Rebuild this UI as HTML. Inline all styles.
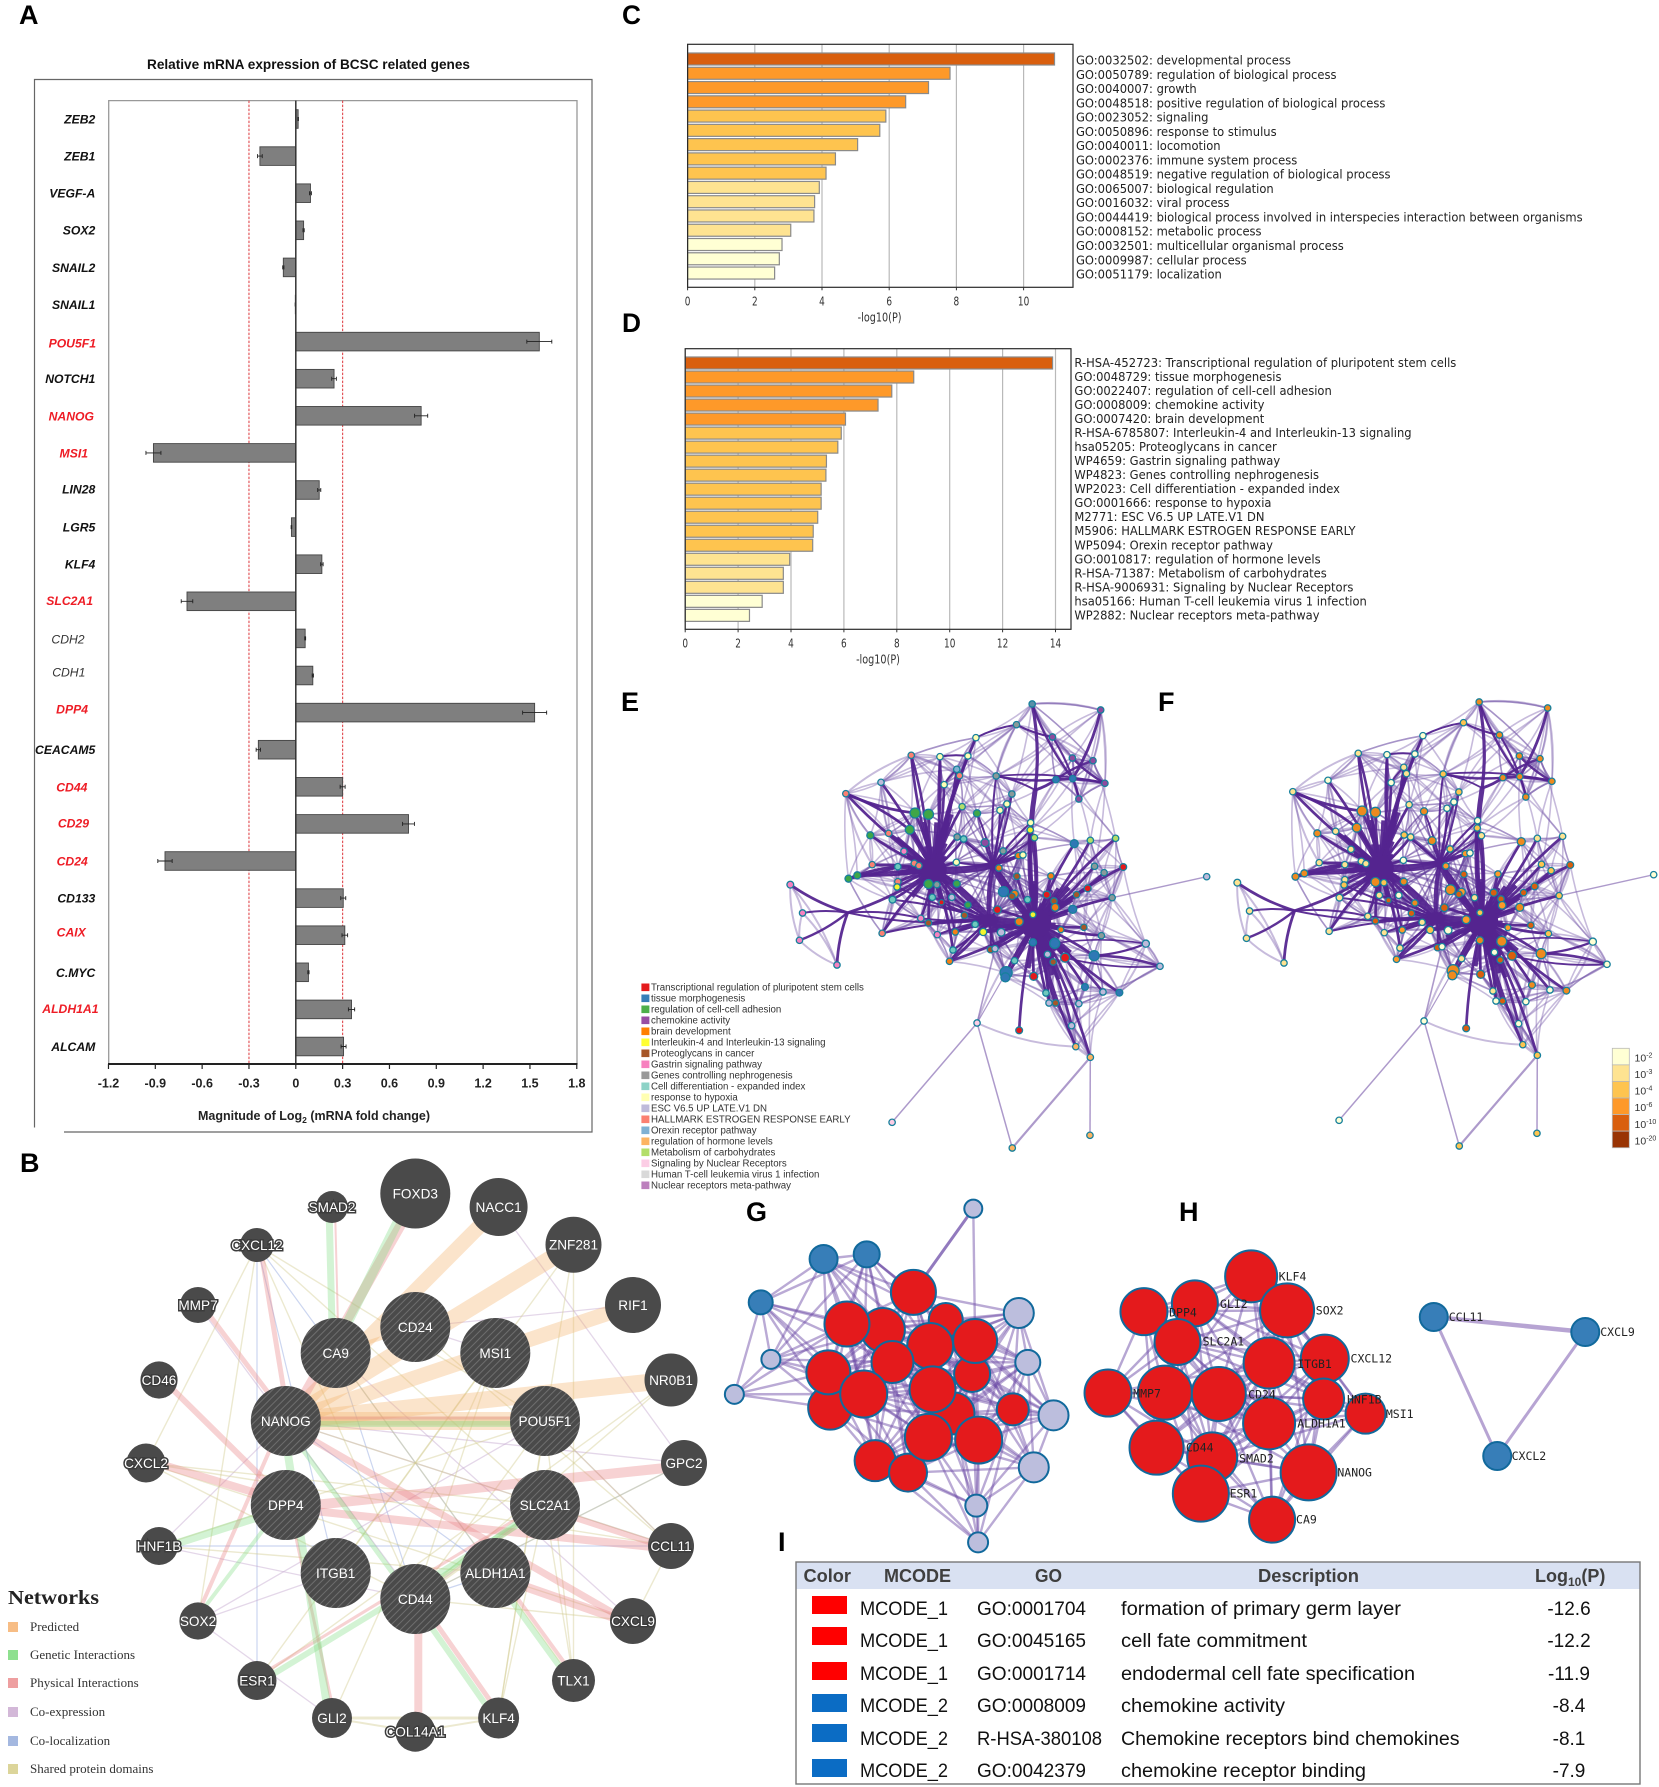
<!DOCTYPE html>
<html lang="en">
<head>
<meta charset="utf-8">
<title>BCSC gene expression figure</title>
<style>
html,body{margin:0;padding:0;background:#fff;}
svg{display:block;}
text{font-family:"Liberation Sans",sans-serif;}
.letter{font-size:27px;font-weight:bold;fill:#000;}
.th{font-size:18px;font-weight:bold;fill:#3f3f3f;}
.td{font-size:19px;fill:#111;}
.net{font-family:"Liberation Serif",serif;font-size:13px;fill:#333;}
</style>
</head>
<body>
<svg id="fig" xmlns="http://www.w3.org/2000/svg" width="1659" height="1787" viewBox="0 0 1659 1787">
<defs>
<pattern id="hatch" patternUnits="userSpaceOnUse" width="5" height="5" patternTransform="rotate(45)">
<rect width="5" height="5" fill="#4a4a4a"/><rect width="1" height="5" fill="#6e6e6e"/>
</pattern>
</defs>
<rect width="1659" height="1787" fill="#fff"/>

<text class="letter" x="19" y="24">A</text>
<text class="letter" x="20" y="1172">B</text>
<text class="letter" x="622" y="24" textLength="19" lengthAdjust="spacingAndGlyphs">C</text>
<text class="letter" x="622" y="332" textLength="19" lengthAdjust="spacingAndGlyphs">D</text>
<text class="letter" x="621" y="711">E</text>
<text class="letter" x="1158" y="711">F</text>
<text class="letter" x="746" y="1221">G</text>
<text class="letter" x="1179" y="1221">H</text>
<text class="letter" x="778" y="1551">I</text>

<!-- Panel A frame -->
<g id="panelA">
<text x="308.5" y="69" text-anchor="middle" font-size="13.5" font-weight="bold" fill="#111" textLength="323" lengthAdjust="spacingAndGlyphs">Relative mRNA expression of BCSC related genes</text>
<path d="M34.5 1127.5V79.5H592V1132H64" fill="none" stroke="#666" stroke-width="1.2"/>
<path d="M108.7 1064V100.6H577V1064" fill="none" stroke="#999" stroke-width="1.3"/>
<text x="198" y="1120" font-size="12.5" font-weight="bold" fill="#222">Magnitude of Log<tspan font-size="8.5" dy="3">2</tspan><tspan dy="-3"> (mRNA fold change)</tspan></text>
</g>

<!-- Panel B -->
<g id="panelB"></g>
<g id="legendB">
<text x="8" y="1604" font-family="Liberation Serif" style="font-family:'Liberation Serif',serif" font-size="20" font-weight="bold" fill="#222" textLength="91" lengthAdjust="spacingAndGlyphs">Networks</text>
<rect x="8" y="1622" width="10" height="10" fill="#f7bd85"/>
<text class="net" x="30" y="1631">Predicted</text>
<rect x="8" y="1650" width="10" height="10" fill="#8ee08f"/>
<text class="net" x="30" y="1659">Genetic Interactions</text>
<rect x="8" y="1678" width="10" height="10" fill="#ee9fa0"/>
<text class="net" x="30" y="1687">Physical Interactions</text>
<rect x="8" y="1707" width="10" height="10" fill="#d3b8d8"/>
<text class="net" x="30" y="1716">Co-expression</text>
<rect x="8" y="1736" width="10" height="10" fill="#a4b8e0"/>
<text class="net" x="30" y="1745">Co-localization</text>
<rect x="8" y="1764" width="10" height="10" fill="#dcd59a"/>
<text class="net" x="30" y="1773">Shared protein domains</text>
</g>

<g id="panelC"></g>
<g id="panelD"></g>
<g id="panelE"></g>
<g id="panelF"></g>
<g id="legendE"></g>
<g id="legendF"></g>
<g id="panelG"></g>
<g id="panelH"></g>

<!-- Panel I table -->
<g id="panelI">
<rect x="796" y="1562" width="844" height="27" fill="#d9e1f2"/>
<rect x="796" y="1562" width="844" height="222" fill="none" stroke="#777" stroke-width="1.4"/>
<text class="th" x="803.5" y="1582" textLength="47.5" lengthAdjust="spacingAndGlyphs">Color</text>
<text class="th" x="884" y="1582" textLength="67" lengthAdjust="spacingAndGlyphs">MCODE</text>
<text class="th" x="1035" y="1582" textLength="27" lengthAdjust="spacingAndGlyphs">GO</text>
<text class="th" x="1258" y="1582" textLength="101" lengthAdjust="spacingAndGlyphs">Description</text>
<text class="th" x="1535" y="1582">Log<tspan font-size="12" dy="4">10</tspan><tspan dy="-4">(P)</tspan></text>

<rect x="812" y="1596" width="35" height="18" fill="#ff0000"/>
<text class="td" x="860" y="1615" textLength="88" lengthAdjust="spacingAndGlyphs">MCODE_1</text>
<text class="td" x="977" y="1615" textLength="109" lengthAdjust="spacingAndGlyphs">GO:0001704</text>
<text class="td" x="1121" y="1615" textLength="280" lengthAdjust="spacingAndGlyphs">formation of primary germ layer</text>
<text class="td" x="1569" y="1615" text-anchor="middle">-12.6</text>

<rect x="812" y="1627" width="35" height="18" fill="#ff0000"/>
<text class="td" x="860" y="1647" textLength="88" lengthAdjust="spacingAndGlyphs">MCODE_1</text>
<text class="td" x="977" y="1647" textLength="109" lengthAdjust="spacingAndGlyphs">GO:0045165</text>
<text class="td" x="1121" y="1647" textLength="186" lengthAdjust="spacingAndGlyphs">cell fate commitment</text>
<text class="td" x="1569" y="1647" text-anchor="middle">-12.2</text>

<rect x="812" y="1662" width="35" height="18" fill="#ff0000"/>
<text class="td" x="860" y="1680" textLength="88" lengthAdjust="spacingAndGlyphs">MCODE_1</text>
<text class="td" x="977" y="1680" textLength="109" lengthAdjust="spacingAndGlyphs">GO:0001714</text>
<text class="td" x="1121" y="1680" textLength="294" lengthAdjust="spacingAndGlyphs">endodermal cell fate specification</text>
<text class="td" x="1569" y="1680" text-anchor="middle">-11.9</text>

<rect x="812" y="1694" width="35" height="18" fill="#0b6cc4"/>
<text class="td" x="860" y="1712" textLength="88" lengthAdjust="spacingAndGlyphs">MCODE_2</text>
<text class="td" x="977" y="1712" textLength="109" lengthAdjust="spacingAndGlyphs">GO:0008009</text>
<text class="td" x="1121" y="1712" textLength="164" lengthAdjust="spacingAndGlyphs">chemokine activity</text>
<text class="td" x="1569" y="1712" text-anchor="middle">-8.4</text>

<rect x="812" y="1724" width="35" height="18" fill="#0b6cc4"/>
<text class="td" x="860" y="1745" textLength="88" lengthAdjust="spacingAndGlyphs">MCODE_2</text>
<text class="td" x="977" y="1745" textLength="125" lengthAdjust="spacingAndGlyphs">R-HSA-380108</text>
<text class="td" x="1121" y="1745" textLength="338.6" lengthAdjust="spacingAndGlyphs">Chemokine receptors bind chemokines</text>
<text class="td" x="1569" y="1745" text-anchor="middle">-8.1</text>

<rect x="812" y="1759" width="35" height="18" fill="#0b6cc4"/>
<text class="td" x="860" y="1777" textLength="88" lengthAdjust="spacingAndGlyphs">MCODE_2</text>
<text class="td" x="977" y="1777" textLength="109" lengthAdjust="spacingAndGlyphs">GO:0042379</text>
<text class="td" x="1121" y="1777" textLength="245" lengthAdjust="spacingAndGlyphs">chemokine receptor binding</text>
<text class="td" x="1569" y="1777" text-anchor="middle">-7.9</text>
</g>
</svg>

<script>
// ---------- Panel A data ----------
const aGenes = ["ZEB2","ZEB1","VEGF-A","SOX2","SNAIL2","SNAIL1","POU5F1","NOTCH1","NANOG","MSI1","LIN28","LGR5","KLF4","SLC2A1","CDH2","CDH1","DPP4","CEACAM5","CD44","CD29","CD24","CD133","CAIX","C.MYC","ALDH1A1","ALCAM"];
const aValues = [0.015,-0.23,0.094,0.05,-0.08,-0.003,1.56,0.245,0.803,-0.912,0.15,-0.028,0.167,-0.697,0.06,0.109,1.53,-0.24,0.30,0.722,-0.838,0.304,0.314,0.081,0.357,0.306];
const aErrors = [0.002,0.015,0.006,0.004,0.004,0.001,0.08,0.015,0.042,0.048,0.01,0.002,0.008,0.037,0.003,0.004,0.077,0.014,0.016,0.038,0.046,0.016,0.018,0.004,0.02,0.016];
const aRedGenes = ["POU5F1","NANOG","MSI1","SLC2A1","DPP4","CD44","CD29","CD24","CAIX","ALDH1A1"];
const aTicks = [-1.2,-0.9,-0.6,-0.3,0,0.3,0.6,0.9,1.2,1.5,1.8];
const aTickLabels = ["-1.2","-0.9","-0.6","-0.3","0","0.3","0.6","0.9","1.2","1.5","1.8"];
const aThresholds = [-0.3,0.3];

// ---------- Panel C / D data ----------
const cTerms = ["GO:0032502: developmental process","GO:0050789: regulation of biological process","GO:0040007: growth","GO:0048518: positive regulation of biological process","GO:0023052: signaling","GO:0050896: response to stimulus","GO:0040011: locomotion","GO:0002376: immune system process","GO:0048519: negative regulation of biological process","GO:0065007: biological regulation","GO:0016032: viral process","GO:0044419: biological process involved in interspecies interaction between organisms","GO:0008152: metabolic process","GO:0032501: multicellular organismal process","GO:0009987: cellular process","GO:0051179: localization"];
const cValues = [10.92,7.81,7.17,6.49,5.9,5.72,5.06,4.4,4.12,3.92,3.78,3.76,3.07,2.81,2.73,2.59];
const cTicks = [0,2,4,6,8,10];
const dTerms = ["R-HSA-452723: Transcriptional regulation of pluripotent stem cells","GO:0048729: tissue morphogenesis","GO:0022407: regulation of cell-cell adhesion","GO:0008009: chemokine activity","GO:0007420: brain development","R-HSA-6785807: Interleukin-4 and Interleukin-13 signaling","hsa05205: Proteoglycans in cancer","WP4659: Gastrin signaling pathway","WP4823: Genes controlling nephrogenesis","WP2023: Cell differentiation - expanded index","GO:0001666: response to hypoxia","M2771: ESC V6.5 UP LATE.V1 DN","M5906: HALLMARK ESTROGEN RESPONSE EARLY","WP5094: Orexin receptor pathway","GO:0010817: regulation of hormone levels","R-HSA-71387: Metabolism of carbohydrates","R-HSA-9006931: Signaling by Nuclear Receptors","hsa05166: Human T-cell leukemia virus 1 infection","WP2882: Nuclear receptors meta-pathway"];
const dValues = [13.89,8.64,7.81,7.29,6.06,5.9,5.77,5.34,5.32,5.14,5.14,5.01,4.84,4.82,3.95,3.71,3.71,2.91,2.43];
const dTicks = [0,2,4,6,8,10,12,14];

// ---------- Panel B data ----------
const bOuterNodes = [["FOXD3",415.3,1193.5,35],["NACC1",498.6,1207,29],["ZNF281",573.5,1244.7,28],["RIF1",633,1305,28],["NR0B1",671,1380,26.5],["GPC2",684,1463,23],["CCL11",671,1546,23],["CXCL9",633,1621,23],["TLX1",573.5,1680.5,21.5],["KLF4",498.6,1718,20.5],["COL14A1",415.3,1731.7,20],["GLI2",332,1718,20],["ESR1",257,1680.5,19.5],["SOX2",198,1621,18.6],["HNF1B",159,1546,19],["CXCL2",146,1463,19.5],["CD46",159,1380,18.6],["MMP7",198,1305,18],["CXCL12",257,1245,17],["SMAD2",332,1207,16]];
const bInnerNodes = [["CA9",335.7,1353,35],["CD24",415.3,1327,35],["MSI1",495.3,1353,35],["NANOG",285.8,1421,35],["POU5F1",545,1421,35],["DPP4",285.8,1505,35],["SLC2A1",545,1505,35],["ITGB1",335.7,1573,35],["CD44",415.3,1599,35],["ALDH1A1",495.3,1573,35]];
const bHalo = ["SMAD2","CXCL12","MMP7","CD46","CXCL2","HNF1B","COL14A1","ESR1","CXCL9","CCL11"];
const bSharedEdges = [["CXCL12","CXCL2"],["CXCL12","CD44"],["CXCL12","POU5F1"],["CXCL12","SLC2A1"],["ZNF281","KLF4"],["ZNF281","TLX1"],["CXCL2","CD44"],["CXCL2","CCL11"],["CXCL2","SLC2A1"],["HNF1B","POU5F1"],["NR0B1","CD44"],["GPC2","CD44"],["CCL11","CXCL9"],["CCL11","POU5F1"],["CXCL9","CXCL2"],["TLX1","SLC2A1"],["TLX1","POU5F1"],["KLF4","POU5F1"],["KLF4","SLC2A1"],["GLI2","MSI1"],["ESR1","NR0B1"],["CD44","MSI1"],["GLI2","KLF4",3],["GLI2","COL14A1",2],["COL14A1","KLF4",2],["CD24","CCL11"],["CA9","TLX1"],["MSI1","ITGB1"],["NANOG","CCL11"],["ESR1","ZNF281"],["SOX2","CXCL12"],["POU5F1","CD44"],["CXCL9","CD44"],["HNF1B","ALDH1A1"],["NANOG","POU5F1",9],["SLC2A1","CD44",5]];
const bCoexprEdges = [["MMP7","CD44"],["NACC1","GPC2"],["CD24","MSI1"],["HNF1B","CD44"],["SOX2","POU5F1"],["SOX2","GLI2"],["ITGB1","SOX2"],["CD44","SLC2A1"],["CCL11","POU5F1"],["GPC2","NANOG"],["HNF1B","NANOG"],["CA9","CXCL9"],["NANOG","CCL11"],["RIF1","CD24"]];
const bColocEdges = [["CXCL12","ESR1"],["CXCL12","CA9"],["CXCL12","ITGB1"],["CA9","CD44"],["CA9","ALDH1A1"],["NANOG","ALDH1A1"],["HNF1B","CCL11"],["CD44","GPC2"],["CD44","ALDH1A1"]];
const bPhysicalEdges = [["FOXD3","NANOG",10],["CXCL12","NANOG",5],["MMP7","NANOG",5],["CD46","DPP4",6],["CXCL2","DPP4",8],["GPC2","DPP4",10],["CCL11","DPP4",8],["CCL11","SLC2A1",6],["CXCL9","NANOG",7],["CXCL9","ALDH1A1",9],["CD44","COL14A1",8],["ALDH1A1","TLX1",4],["CD44","KLF4",5],["ESR1","SLC2A1",3],["SOX2","NANOG",4],["DPP4","GLI2",3],["SMAD2","CA9",2],["NANOG","POU5F1",3]];
const bGeneticEdges = [["FOXD3","CA9",10],["SMAD2","CA9",7],["NANOG","GLI2",8],["HNF1B","DPP4",8],["ESR1","SLC2A1",6],["NANOG","CD44",5],["CD44","KLF4",6],["ALDH1A1","TLX1",6],["DPP4","SOX2",4],["NANOG","POU5F1",6],["SLC2A1","CD44",4]];
const bPredictedEdges = [["NANOG","ZNF281",17],["NANOG","NACC1",15],["NANOG","RIF1",15],["NANOG","NR0B1",17],["NANOG","POU5F1",18],["CA9","CD24",4]];

// ---------- Panel E / F data (source-image node layout: x, y, radius, category) ----------
const enrichNodes = [
[1077,72,3.2,"c"],[1256,90,3.2,"d"],[1036,134,3.2,"g"],[1130,171,3.2,"d"],[1182,234,3.2,"d"],[1236,242,3.2,"d"],[1139,299,3.2,"b"],[1183,296,3.2,"b"],[1267,310,3.2,"d"],[1199,357,3.2,"d"],
[930,173,3.2,"k"],[761,226,3.2,"s"],[836,230,3.2,"k"],[909,228,3.2,"k"],[880,268,3.2,"o"],[887,287,3.2,"s"],[847,314,3.2,"k"],[983,288,3.2,"g"],[1024,342,3.2,"g"],[682,307,3.2,"l"],
[590,341,3.2,"s"],[1011,372,3.2,"k"],[894,380,3.2,"m"],[993,391,3.2,"k"],[771,399,5,"a"],[806,403,5,"a"],[933,400,3.6,"a"],[757,449,4.4,"a"],[1073,428,3.2,"k"],[1072,450,3.2,"y"],
[654,466,3.5,"a"],[702,460,3.2,"s"],[881,471,3.2,"g"],[898,477,3.2,"t"],[1083,473,3.2,"m"],[954,488,4,"d"],[1187,491,4,"b"],[1229,481,3.2,"m"],[1295,475,3.2,"m"],[742,514,3.2,"p"],
[1001,513,3.2,"g"],[1041,527,3.2,"e"],[1053,525,3.2,"k"],[879,547,3.2,"k"],[659,554,3.2,"s"],[726,560,3.2,"t"],[769,550,3.2,"s"],[781,557,3.2,"s"],[990,564,3.2,"e"],[1240,559,3.2,"g"],
[1315,561,3.4,"r"],[597,596,3.5,"a"],[620,586,3.5,"a"],[1037,589,3.2,"w"],[1126,588,3.2,"e"],[1265,578,3.2,"g"],[726,605,3.2,"s"],[806,612,4.5,"a"],[828,614,3.2,"g"],[880,611,3.5,"a"],
[445,614,3.4,"p"],[724,621,3.2,"y"],[1002,635,5,"b"],[1222,625,3.4,"r"],[1031,642,3.8,"e"],[1024,649,3.2,"w"],[1115,644,3.6,"r"],[1193,644,3.2,"w"],[816,652,3.2,"t"],[867,652,3.2,"l"],
[712,659,3.4,"t"],[840,667,2.6,"r"],[1065,659,3.2,"t"],[1134,663,3.2,"w"],[1286,653,3.2,"g"],[909,675,3.2,"a"],[1137,682,3.8,"e"],[986,689,3.8,"r"],[1183,688,4,"b"],[477,699,3.2,"p"],
[900,706,3.2,"w"],[1079,704,3,"y"],[786,715,3.2,"p"],[806,729,3.2,"w"],[1043,725,4,"e"],[928,733,3.2,"t"],[1212,742,3.2,"w"],[1152,749,3,"e"],[949,756,3.6,"y"],[996,757,3.8,"l"],
[876,756,3.2,"e"],[685,760,3.2,"s"],[829,764,3.2,"p"],[1258,767,3.2,"g"],[469,781,3.2,"p"],[1079,787,3.6,"b"],[1136,790,5,"b"],[1374,791,3.6,"l"],[968,809,3.2,"w"],[980,806,3.2,"l"],
[870,810,3.2,"t"],[1239,827,5,"b"],[1117,823,3.2,"l"],[1163,833,4.5,"r"],[1031,842,3.2,"t"],[861,844,3.2,"e"],[1132,846,3.2,"w"],[567,855,3.2,"p"],[1411,859,3.2,"l"],[1009,878,6,"b"],
[1007,892,4.5,"b"],[1081,889,4,"r"],[1215,921,3.4,"b"],[1113,939,3.2,"t"],[1262,936,3.2,"l"],[1305,938,3.4,"b"],[1121,969,3.2,"l"],[1138,969,3.2,"w"],[1199,971,3.2,"l"],[933,1029,3.2,"q"],
[1043,1051,3.4,"r"],[1180,1037,3.2,"l"],[1191,1100,3.2,"h"],[1229,1132,3.2,"h"],[1533,590,3.2,"l"],[711,1327,3.2,"q"],[1025,1404,3.2,"h"],[1228,1366,3.2,"h"]
];
const enrichHubs = [[1085,730],[820,570],[965,720],[975,555],[595,698],[1085,330]];
const hubStar0 = [36,37,38,49,50,55,63,66,67,73,74,76,78,86,87,93,95,96,101,102,103,104,106,111,112,113,114,115,116,117,118,120,121,122,123,54,53,62,64,65,72,81,84,77,88,28,29,34,105,98,99,109,110];
const hubStar1 = [11,12,13,14,15,16,20,19,22,24,25,27,30,31,39,44,45,46,47,51,52,56,57,58,59,61,68,69,70,71,43,33,32,91,82,83,100,75,10];
const hubStar2 = [80,83,82,85,88,89,90,92,100,105,77,91,71,75,69,68,61,70,98,99];
const hubStar3 = [35,40,48,26,21,23,17,18,33,32,28,29,41,42,43,34,64];
const thickLinks = [[128,130,10],[129,131,7],[129,130,7],[131,128,7],[130,131,4],[133,128,5],[0,133,3.2],[0,7,2.4],[1,7,2.8],[133,6,2.8],[6,8,2.8],[5,6,2.4],[7,9,2.2],[4,8,2.4],[3,9,2],[17,6,2.4],[17,8,1.8],[2,3,2.2],[10,2,1.8],[60,132,2.8],[79,132,2],[94,132,2.4],[107,132,2.8],[132,129,2.8],[132,82,2],[132,130,2],[51,45,2.8],[52,45,2.8],[20,27,2.8],[20,24,2.8],[11,57,2.6],[12,90,2.2],[16,14,1.8],[13,12,2],[17,133,1.8],[108,101,2.6],[97,101,2.2],[97,96,1.6],[108,103,1.8],[105,130,3],[88,128,3.5],[85,128,3.5],[90,130,2.6]];
const softLinks = [[60,79],[60,94],[60,107],[79,94],[79,107],[94,107],[119,128],[119,122],[0,1],[2,0],[3,5],[4,5],[4,7],[5,8],[5,9],[8,9],[6,9],[3,4],[1,5],[20,30],[19,31],[20,44],[11,19],[11,20],[10,13],[14,10],[16,13],[2,17],[18,21],[18,23],[97,108],[93,97],[93,108],[74,121],[122,121],[123,121],[70,91],[91,82],[97,115],[86,93],[74,55],[74,50]];
const straightLinks = [[119,125,1.5],[119,126,1.5],[126,123,2.2],[123,127,1.5],[119,99,1.6],[124,74,1.4],[119,109,1.2]];
const meshExcluded = [60,79,94,107,119,120,124,125,126,127];
const clusterFill = {r:"#e41a1c",b:"#2f78b5",a:"#3fa648",d:"#8e4a9e",e:"#f57f14",y:"#f4f42e",w:"#a65628",p:"#f781bf",g:"#8a9a9a",t:"#6fc9bd",k:"#ffffb3",l:"#bebada",s:"#fb8072",o:"#80b1d3",h:"#fdb462",m:"#b3de69",q:"#fccde5",c:"#5a8fa8"};
const pvalFill = {r:"#d95f0e",b:"#ee8a1e",a:"#ee8a1e",d:"#ee8a1e",e:"#fe9929",y:"#fec44f",w:"#d95f0e",p:"#fee391",g:"#fec44f",t:"#fee391",k:"#ffffd4",l:"#ffffd4",s:"#fee391",o:"#fee391",h:"#fec44f",m:"#fee391",q:"#ffffd4",c:"#ee8a1e"};
const clusterLegend = ["Transcriptional regulation of pluripotent stem cells","tissue morphogenesis","regulation of cell-cell adhesion","chemokine activity","brain development","Interleukin-4 and Interleukin-13 signaling","Proteoglycans in cancer","Gastrin signaling pathway","Genes controlling nephrogenesis","Cell differentiation - expanded index","response to hypoxia","ESC V6.5 UP LATE.V1 DN","HALLMARK ESTROGEN RESPONSE EARLY","Orexin receptor pathway","regulation of hormone levels","Metabolism of carbohydrates","Signaling by Nuclear Receptors","Human T-cell leukemia virus 1 infection","Nuclear receptors meta-pathway"];
const clusterColors = ["#e41a1c","#377eb8","#4daf4a","#984ea3","#ff7f00","#ffff33","#a65628","#f781bf","#999999","#8dd3c7","#ffffb3","#bebada","#fb8072","#80b1d3","#fdb462","#b3de69","#fccde5","#d9d9d9","#bc80bd"];
const pvalLabels = ["-2","-3","-4","-6","-10","-20"];
const pvalColors = ["#ffffd4","#fee391","#fec44f","#fe9929","#d95f0e","#993404"];

// ---------- Panel G / H data ----------
const gOuterNodes = [[423,86,9,"v"],[173,237,14,"u"],[245,223,13,"u"],[68,367,12,"u"],[499,399,15,"v"],[85,538,9.5,"v"],[514,547,12.5,"v"],[24,643,9.5,"v"],[557,706,15,"v"],[524,862,15,"v"],[428,977,11,"v"],[431,1087,10,"v"]];
const gRedNodes = [[377,420,17],[272,450,22],[421,582,18],[390,700,21],[184,683,22],[323,337,22.5],[212,432,22.5],[181,577,22],[426,483,22],[351,498,23],[288,546,21],[489,688,16],[259,842,20.5],[240,642,23.5],[355,628,23],[314,878,19],[348,772,23.5],[432,780,23.5]];
const hNodes = [["KLF4",887,289,26,933,290],["MSI1",1078,701,20,1112,702],["GLI2",793,370,23,835,372],["DPP4",708,395,23.5,750,397],["SLC2A1",764,486,23,806,485],["SOX2",947,391,27,995,392],["CXCL12",1010,536,24,1053,536],["ITGB1",917,549,25.5,964,552],["MMP7",648,639,23.5,690,641],["",743,638,27,0,0],["CD24",833,642,27,882,643],["HNF1B",1008,657,20.5,1047,659],["ALDH1A1",917,730,26,964,730],["SMAD2",822,832,25,867,836],["CD44",729,803,27,778,802],["NANOG",983,877,28,1031,877],["ESR1",803,941,28,851,941],["CA9",922,1019,23,962,1018]];
const hBlueNodes = [["CCL11",1192,411,14,1217,411],["CXCL9",1445,456,14,1470,456],["CXCL2",1298,828,14,1322,828]];

const SVGNS = "http://www.w3.org/2000/svg";
function mk(tag, attrs, parent, text){
  const el = document.createElementNS(SVGNS, tag);
  for (const k in attrs) el.setAttribute(k, attrs[k]);
  if (text !== undefined) el.textContent = text;
  parent.appendChild(el);
  return el;
}
function slug(s){ return String(s).toLowerCase().replace(/[^a-z0-9]+/g,'-').replace(/^-|-$/g,''); }

// ---------- Panel A ----------
(function(){
  const g = document.getElementById('panelA');
  const xA = v => 295.8 + v * 156.1;
  const yA = i => 119 + i * 37.1;
  const plotTop = 100.6, plotBottom = 1064;
  const labelEdge = {POU5F1:96,NANOG:94,MSI1:88,SLC2A1:93,CDH2:84.6,CDH1:85.4,DPP4:88,CD44:87.4,CD29:89,CD24:87.8,CAIX:85.8,ALDH1A1:98.5};
  const labelShift = {CDH1:-3.5,DPP4:-3.4,CAIX:-3.4,CD29:-1,POU5F1:1.2,SLC2A1:-1,ALDH1A1:-1,LIN28:-1,SOX2:-0.5,CDH2:0.8};
  aThresholds.forEach(t=>{
    const l = mk('line',{x1:xA(t),x2:xA(t),y1:plotTop,y2:plotBottom,stroke:'#e0474c','stroke-width':1.1,'stroke-dasharray':'2.5 1.5'},g);
    
    
  });
  aGenes.forEach((gene,i)=>{
    const v = aValues[i], e = aErrors[i], y = yA(i);
    const bar = mk('rect',{x:Math.min(xA(0),xA(v)),y:y-9.3,width:Math.abs(xA(v)-xA(0)),height:18.6,fill:'#7f7f7f',stroke:'#444','stroke-width':0.9},g);
    
    
    const x1 = xA(v-e), x2 = xA(v+e);
    const err = mk('path',{d:`M${x1} ${y}H${x2}M${x1} ${y-2}V${y+2}M${x2} ${y-2}V${y+2}`,stroke:'#222','stroke-width':0.9,fill:'none'},g);
    
    
    const isRed = aRedGenes.includes(gene), isGray = gene==='CDH1'||gene==='CDH2';
    const lab = mk('text',{x:labelEdge[gene]||95.3,y:y+4.5+(labelShift[gene]||0),'text-anchor':'end','font-size':12.2,'font-style':'italic','font-weight':isGray?'normal':'bold',fill:isRed?'#ee1c25':(isGray?'#333':'#111')},g,gene);
    
    
  });
  const zero = mk('line',{x1:xA(0),x2:xA(0),y1:plotTop,y2:plotBottom,stroke:'#333','stroke-width':1.5},g);
  
  
  const axis = mk('line',{x1:108,x2:577.5,y1:plotBottom,y2:plotBottom,stroke:'#222','stroke-width':2},g);
  
  
  aTicks.forEach((t,i)=>{
    const tk = mk('line',{x1:xA(t),x2:xA(t),y1:plotBottom,y2:plotBottom+5,stroke:'#222','stroke-width':1.2},g);
    
    
    const lb = mk('text',{x:xA(t),y:plotBottom+23.5,'text-anchor':'middle','font-size':12.5,'font-weight':'bold',fill:'#222'},g,aTickLabels[i]);
    
    
  });
})();

// ---------- Panels C, D ----------
function binColor(v){ return v>=10?'#d95f0e':v>=6?'#fe9929':v>=4?'#fec44f':v>=3?'#fee391':'#ffffd4'; }
function drawEnrich(gId, id, terms, values, ticks, box){
  const g = document.getElementById(gId);
  const x = v => box.left + v * box.unit;
  ticks.forEach(t=>{
    const gl = mk('line',{x1:x(t),x2:x(t),y1:box.top,y2:box.bottom,stroke:'#b9b9b9','stroke-width':1.2},g);
    
    
  });
  values.forEach((v,i)=>{
    const cy = box.first + i * box.step;
    const bar = mk('rect',{x:box.left,y:cy-6,width:x(v)-box.left,height:12,fill:binColor(v),stroke:'#8a8a8a','stroke-width':1.2},g);
    
    
    const lb = mk('text',{transform:`translate(${box.labelX},${cy+box.labelDy}) scale(${box.sx},1)`,'font-size':12.4,fill:'#222',style:'font-family:"DejaVu Sans",sans-serif'},g,terms[i]);
    
    
  });
  const fr = mk('rect',{x:box.left,y:box.top,width:box.right-box.left,height:box.bottom-box.top,fill:'none',stroke:'#2a2a2a','stroke-width':1.2},g);
  
  
  ticks.forEach(t=>{
    const tk = mk('line',{x1:x(t),x2:x(t),y1:box.bottom,y2:box.bottom+3,stroke:'#333','stroke-width':1},g);
    
    
    const lb = mk('text',{transform:`translate(${x(t)},${box.bottom+18}) scale(0.72,1)`,'text-anchor':'middle','font-size':12.4,fill:'#333',style:'font-family:"DejaVu Sans",sans-serif'},g,String(t));
    
    
  });
  const xt = mk('text',{transform:`translate(${box.titleX},${box.bottom+34}) scale(0.78,1)`,'text-anchor':'middle','font-size':12.4,fill:'#333',style:'font-family:"DejaVu Sans",sans-serif'},g,'-log10(P)');
  
  
}
drawEnrich('panelC','c',cTerms,cValues,cTicks,{left:687.6,right:1073,top:44.3,bottom:287.3,unit:33.6,first:59,step:14.27,labelX:1076,labelDy:5.5,sx:0.93,titleX:879.6});
drawEnrich('panelD','d',dTerms,dValues,dTicks,{left:685.2,right:1071,top:348.7,bottom:629.3,unit:26.45,first:363,step:14.02,labelX:1074.4,labelDy:4,sx:0.93,titleX:878});

// ---------- Panel B ----------
(function(){
  const g = document.getElementById('panelB');
  const pos = {};
  bOuterNodes.concat(bInnerNodes).forEach(n=>{pos[n[0]]=n;});
  function edges(list,color,op,defW,kind,off){
    list.forEach(e=>{
      const a=pos[e[0]], b=pos[e[1]];
      const L=Math.hypot(b[1]-a[1],b[2]-a[2]);
      const ox=-(b[2]-a[2])/L*off, oy=(b[1]-a[1])/L*off;
      const l = mk('line',{x1:a[1]+ox,y1:a[2]+oy,x2:b[1]+ox,y2:b[2]+oy,stroke:color,'stroke-opacity':op,'stroke-width':e[2]||defW},g);
      
      
    });
  }
  edges(bColocEdges,'#8ea4dd',0.45,1.2,'colocalization',0);
  edges(bCoexprEdges,'#c4a6cf',0.45,1.3,'coexpression',0);
  edges(bSharedEdges,'#d2cb8e',0.42,1.4,'shared-domain',0);
  edges(bPredictedEdges,'#f5b36f',0.36,10,'predicted',0);
  edges(bPhysicalEdges,'#ea8a8c',0.38,4,'physical',-3);
  edges(bGeneticEdges,'#7edd82',0.34,4,'genetic',3);
  function nodes(list,fill){
    list.forEach(n=>{
      const c = mk('circle',{cx:n[1],cy:n[2],r:n[3],fill:fill},g);
      
      
      const halo = bHalo.includes(n[0]);
      const t = mk('text',{x:n[1],y:n[2]+5,'text-anchor':'middle','font-size':13.6,fill:'#fff',stroke:halo?'#3c3c3c':'none','stroke-width':halo?3:0,'paint-order':'stroke'},g,n[0]);
      
      
    });
  }
  nodes(bOuterNodes,'#4a4a4a');
  nodes(bInnerNodes,'url(#hatch)');
})();

// ---------- Panels E, F ----------
function drawEnrichNet(gId, id, dx, dy, fillMap){
  const g = document.getElementById(gId);
  const px = z => 620 + z/2.613 + dx;
  const py = z => 680 + z/3 + dy;
  const all = enrichNodes.concat(enrichHubs.map(h=>[h[0],h[1],0,""]));
  const H = enrichNodes.length;
  function curve(a,b,k){
    const x1=px(all[a][0]),y1=py(all[a][1]),x2=px(all[b][0]),y2=py(all[b][1]);
    const mx=(x1+x2)/2,my=(y1+y2)/2,nx=-(y2-y1),ny=x2-x1;
    return `M${x1.toFixed(1)} ${y1.toFixed(1)}Q${(mx+nx*k).toFixed(1)} ${(my+ny*k).toFixed(1)} ${x2.toFixed(1)} ${y2.toFixed(1)}`;
  }
  const lite = mk('g',{fill:'none',stroke:'#7a5cab','stroke-opacity':0.42,'stroke-width':1.6},g);
  
  
  softLinks.forEach((e,i)=>{
    mk('path',{d:curve(e[0],e[1],i%2?0.1:-0.1),'stroke-width':2},lite);
  });
  straightLinks.forEach(e=>{
    mk('path',{d:curve(e[0],e[1],0),'stroke-width':e[2],'stroke-opacity':0.62},lite);
  });
  enrichNodes.forEach((n,i)=>{
    if (meshExcluded.includes(i)) return;
    const ds = enrichNodes.map((m,j)=>[Math.hypot((m[0]-n[0])/2.613,(m[1]-n[1])/3),j]).filter(d=>d[1]!==i&&!meshExcluded.includes(d[1])).sort((a,b)=>a[0]-b[0]);
    ds.slice(0,5).forEach((d,k)=>{
      mk('path',{d:curve(i,d[1],k%2?0.08:-0.08)},lite);
    });
    ds.slice(8,11).forEach((d,k)=>{
      mk('path',{d:curve(i,d[1],k%2?0.05:-0.05)},lite);
    });
  });
  const mid = mk('g',{fill:'none',stroke:'#5b3597','stroke-opacity':0.5,'stroke-width':1.5},g);
  
  
  enrichHubs.slice(0,4).forEach((hb,h)=>{
    enrichNodes.forEach((n,i)=>{
      if (meshExcluded.includes(i)) return;
      const d = Math.hypot((n[0]-hb[0])/2.613,(n[1]-hb[1])/3);
      if (d < 85) mk('path',{d:curve(H+h,i,(i%2?0.07:-0.07))},mid);
    });
  });
  const dark = mk('g',{fill:'none',stroke:'#54248f','stroke-width':2.2,'stroke-opacity':0.94},g);
  
  
  [hubStar0,hubStar1,hubStar2,hubStar3].forEach((star,h)=>{
    star.forEach((n,i)=>{
      mk('path',{d:curve(H+h,n,i%2?0.05:-0.05),'stroke-width':(h===0||h===1)?2.7:2},dark);
      const hx=px(enrichHubs[h][0]),hy=py(enrichHubs[h][1]);
      const ex=hx+(px(enrichNodes[n][0])-hx)*0.42,ey=hy+(py(enrichNodes[n][1])-hy)*0.42;
      if (h<2) mk('path',{d:`M${hx.toFixed(1)} ${hy.toFixed(1)}L${ex.toFixed(1)} ${ey.toFixed(1)}`,'stroke-width':4.2},dark);
    });
  });
  thickLinks.forEach((e,i)=>{
    mk('path',{d:curve(e[0],e[1],i%2?0.08:-0.08),'stroke-width':e[2]},dark);
  });
  [[0,16,15],[1,13,12],[2,9,6],[3,5,6]].forEach(h=>{
    const blob = mk('ellipse',{cx:px(enrichHubs[h[0]][0]),cy:py(enrichHubs[h[0]][1]),rx:h[1],ry:h[2],fill:'#54248f'},g);
    
    
  });
  enrichNodes.forEach((n,i)=>{
    const c = mk('circle',{cx:px(n[0]),cy:py(n[1]),r:n[2],fill:fillMap[n[3]],stroke:'#17809c','stroke-width':1.3},g);
    
    
  });
}
drawEnrichNet('panelE','e',0,0,clusterFill);
drawEnrichNet('panelF','f',447,-2,pvalFill);

(function(){
  const g = document.getElementById('legendE');
  clusterLegend.forEach((t,i)=>{
    const y = 987.3 + i*11;
    const r = mk('rect',{x:641.4,y:y-3.8,width:8,height:7.6,fill:clusterColors[i]},g);
    
    
    const tx = mk('text',{x:651,y:y+3.2,'font-size':9.7,fill:'#333'},g,t);
    
    
  });
  const f = document.getElementById('legendF');
  pvalColors.forEach((c,i)=>{
    const y = 1048.3 + i*16.57;
    const r = mk('rect',{x:1612.3,y:y,width:17,height:16.57,fill:c,stroke:'#b8b8b8','stroke-width':0.8},f);
    
    
    const tx = mk('text',{x:1634.5,y:y+13.2,'font-size':10.5,fill:'#333'},f,'10');
    
    
    mk('tspan',{'font-size':7,dy:-4},tx,pvalLabels[i]);
  });
})();

// ---------- Panels G, H ----------
const ppiEdge = '#6e4ea8';
function ppx(z){ return 720 + z/1.67; }
function ppy(z){ return 1180 + z/3; }
(function(){
  const g = document.getElementById('panelG');
  const all = gOuterNodes.concat(gRedNodes.map(n=>[n[0],n[1],n[2],"x"]));
  const eg = mk('g',{stroke:ppiEdge,'stroke-opacity':0.48,'stroke-width':2.4},g);
  
  
  for(let i=0;i<all.length;i++) for(let j=i+1;j<all.length;j++){
    if(i===0) continue;
    const dx=ppx(all[i][0])-ppx(all[j][0]),dy=ppy(all[i][1])-ppy(all[j][1]);
    const d=Math.hypot(dx,dy);
    if(d<145 && !(i<3&&j>=8&&j<12)) mk('line',{x1:ppx(all[i][0]),y1:ppy(all[i][1]),x2:ppx(all[j][0]),y2:ppy(all[j][1])},eg);
  }
  mk('line',{x1:ppx(423),y1:ppy(86),x2:ppx(323),y2:ppy(337),'stroke-width':3,'stroke-opacity':0.75},eg);
  mk('line',{x1:ppx(423),y1:ppy(86),x2:ppx(426),y2:ppy(483)},eg);
  all.forEach((n,i)=>{
    const fill = n[3]==='u'?'#377eb8':n[3]==='v'?'#bcbedd':'#e41a1c';
    const c = mk('circle',{cx:ppx(n[0]),cy:ppy(n[1]),r:n[2],fill:fill,stroke:'#11699c','stroke-width':2},g);
    
    
  });
})();
(function(){
  const g = document.getElementById('panelH');
  const eg = mk('g',{stroke:ppiEdge,'stroke-opacity':0.5,'stroke-width':2.4},g);
  
  
  for(let i=0;i<hNodes.length;i++) for(let j=i+1;j<hNodes.length;j++){
    const dx=ppx(hNodes[i][1])-ppx(hNodes[j][1]),dy=ppy(hNodes[i][2])-ppy(hNodes[j][2]);
    if(Math.hypot(dx,dy)<170) mk('line',{x1:ppx(hNodes[i][1]),y1:ppy(hNodes[i][2]),x2:ppx(hNodes[j][1]),y2:ppy(hNodes[j][2])},eg);
  }
  const tri = mk('g',{stroke:'#9f86c4','stroke-opacity':0.75},g);
  
  
  [[0,1,4.5],[0,2,3],[1,2,3]].forEach(e=>{
    mk('line',{x1:ppx(hBlueNodes[e[0]][1]),y1:ppy(hBlueNodes[e[0]][2]),x2:ppx(hBlueNodes[e[1]][1]),y2:ppy(hBlueNodes[e[1]][2]),'stroke-width':e[2]},tri);
  });
  hNodes.forEach((n,i)=>{
    const c = mk('circle',{cx:ppx(n[1]),cy:ppy(n[2]),r:n[3],fill:'#e41a1c',stroke:'#11699c','stroke-width':2},g);
    
    
  });
  hBlueNodes.forEach(n=>{
    const c = mk('circle',{cx:ppx(n[1]),cy:ppy(n[2]),r:n[3],fill:'#377eb8',stroke:'#11699c','stroke-width':2},g);
    
    
  });
  hNodes.concat(hBlueNodes).forEach(n=>{
    if(!n[0]) return;
    const t = mk('text',{x:ppx(n[4]),y:ppy(n[5])+4,'font-size':11.5,fill:'#222',style:'font-family:"DejaVu Sans Mono",monospace'},g,n[0]);
    
    
  });
})();
</script>
</body>
</html>
